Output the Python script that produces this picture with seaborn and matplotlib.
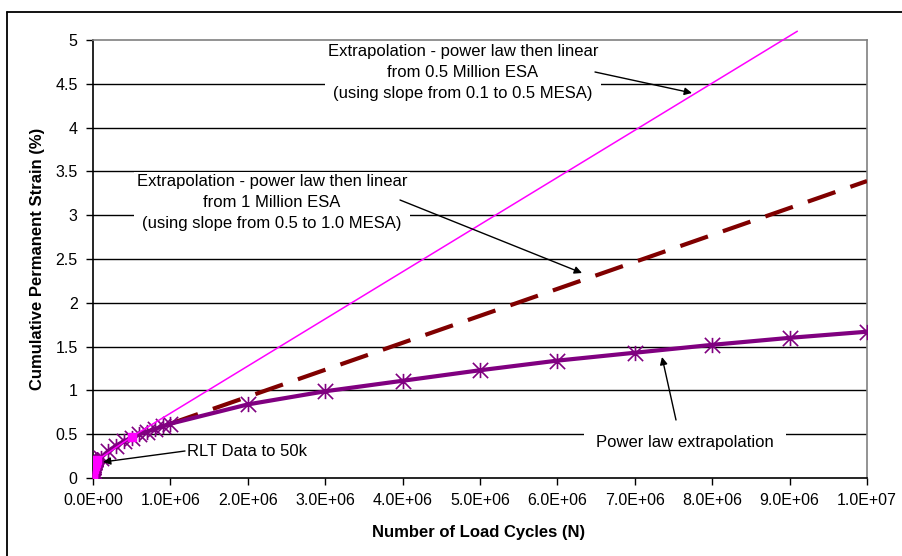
import numpy as np
import pandas as pd
import matplotlib
matplotlib.use("Agg")
import matplotlib.pyplot as plt
from matplotlib.path import Path
from matplotlib.lines import Line2D
from matplotlib.ticker import FuncFormatter
import seaborn as sns

# ---------------- data ----------------
rlt_N = [0, 2000, 5000, 10000, 15000, 20000, 25000, 30000, 35000, 40000, 45000, 50000]
rlt_strain = [0.00, 0.04, 0.07, 0.10, 0.12, 0.14, 0.15, 0.16, 0.17, 0.18, 0.19, 0.20]

pl_N = [1e5, 2e5, 3e5, 4e5, 5e5, 6e5, 7e5, 8e5, 9e5,
        1e6, 2e6, 3e6, 4e6, 5e6, 6e6, 7e6, 8e6, 9e6, 1e7]
pl_strain = [0.23, 0.31, 0.37, 0.42, 0.46, 0.50, 0.53, 0.56, 0.59,
             0.62, 0.84, 0.99, 1.11, 1.23, 1.34, 1.43, 1.52, 1.60, 1.67]

lin05_N = [5e5, 9.1e6]
lin05_strain = [0.47, 5.10]

lin1_N = [1e6, 1e7]
lin1_strain = [0.62, 3.39]

x_ticks = [0, 1e6, 2e6, 3e6, 4e6, 5e6, 6e6, 7e6, 8e6, 9e6, 1e7]
y_ticks = [0, 0.5, 1, 1.5, 2, 2.5, 3, 3.5, 4, 4.5, 5]

PURPLE = "#800080"
MAGENTA = "#FF00FF"
DARKRED = "#800000"

sns.set_theme(style="white")
plt.rcParams["font.family"] = ["Liberation Sans", "DejaVu Sans"]

W, H = 903, 556
fig = plt.figure(figsize=(W / 100, H / 100), dpi=100)
fig.patch.set_facecolor("white")

def fx(px):
    return px / W

def fy(py):
    return 1 - py / H

ax = fig.add_axes([fx(93), fy(478), fx(867) - fx(93), fy(40) - fy(478)])
ax.set_facecolor("white")

# star marker (X + vertical)
star = Path([(0, -1), (0, 1), (-1, -1), (1, 1), (-1, 1), (1, -1)],
            [Path.MOVETO, Path.LINETO, Path.MOVETO, Path.LINETO, Path.MOVETO, Path.LINETO])

# power law (purple) line through RLT data and extrapolation
purple_df = pd.DataFrame({"N": rlt_N + pl_N, "strain": rlt_strain + pl_strain})
sns.lineplot(data=purple_df, x="N", y="strain", ax=ax, color=PURPLE, lw=3.0,
             sort=False, estimator=None, zorder=4)
ax.plot(pl_N, pl_strain, linestyle="none", marker=star, markersize=11,
        markeredgecolor=PURPLE, markeredgewidth=1.2, zorder=5)
ax.plot(rlt_N, rlt_strain, linestyle="none", marker="D", markersize=8,
        color=PURPLE, zorder=5)

# dashed linear from 1 million
lin1_df = pd.DataFrame({"N": lin1_N, "strain": lin1_strain})
sns.lineplot(data=lin1_df, x="N", y="strain", ax=ax, color=DARKRED, lw=3.0,
             sort=False, estimator=None, zorder=3)
ax.lines[-1].set_dashes([7, 3.8])
ax.lines[-1].set_dash_capstyle("butt")

# magenta linear from 0.5 million (with RLT data)
mag_df = pd.DataFrame({"N": rlt_N + lin05_N, "strain": rlt_strain + lin05_strain})
sns.lineplot(data=mag_df, x="N", y="strain", ax=ax, color=MAGENTA, lw=1.1,
             sort=False, estimator=None, zorder=6)
ax.lines[-1].set_clip_on(False)
ax.plot(rlt_N + lin05_N[:1], rlt_strain + lin05_strain[:1], linestyle="none",
        marker="s", markersize=6, color=MAGENTA, zorder=7)

# axes styling
ax.set_xlim(0, 1e7)
ax.set_ylim(0, 5)
ax.set_xticks(x_ticks)
ax.set_yticks(y_ticks)
ax.xaxis.set_major_formatter(FuncFormatter(lambda v, p: f"{v:.1E}"))
ax.yaxis.set_major_formatter(FuncFormatter(lambda v, p: f"{v:g}"))
ax.tick_params(axis="both", which="major", direction="out", length=5, width=1,
               color="black", labelsize=11.5, labelcolor="black")
ax.tick_params(axis="x", pad=6)
ax.tick_params(axis="y", pad=6)
ax.xaxis.set_ticks_position("bottom")
ax.yaxis.set_ticks_position("left")
ax.set_xlabel("")
ax.set_ylabel("")
for gy in y_ticks[1:-1]:
    ax.axhline(gy, color="black", lw=1.0, zorder=1)
ax.spines["left"].set_color("black")
ax.spines["bottom"].set_color("black")
ax.spines["top"].set_color("#808080")
ax.spines["right"].set_color("#808080")
for s in ax.spines.values():
    s.set_linewidth(1.2)
    s.set_visible(True)

def dx(px):
    return (px - 93) / 774 * 1e7

def dy(py):
    return (478 - py) / 87.6

box = dict(facecolor="white", edgecolor="none", pad=2)
txt_kw = dict(fontsize=12, color="black", ha="center", va="center", linespacing=1.5,
              zorder=8)

ax.text(dx(463), dy(73),
        "Extrapolation - power law then linear\nfrom 0.5 Million ESA\n(using slope from 0.1 to 0.5 MESA)",
        bbox=box, **txt_kw)
ax.text(dx(272), dy(203),
        "Extrapolation - power law then linear\nfrom 1 Million ESA\n(using slope from 0.5 to 1.0 MESA)",
        bbox=box, **txt_kw)
ax.text(dx(685), dy(442), "Power law extrapolation",
        bbox=dict(facecolor="white", edgecolor="none", pad=9), **txt_kw)
ax.text(dx(187), dy(452), "RLT Data to 50k", fontsize=12, color="black",
        ha="left", va="center", zorder=8)

arrow_kw = dict(arrowstyle="-|>", color="black", lw=1.0, mutation_scale=11,
                shrinkA=0, shrinkB=0)
for (tx, ty), (hx, hy) in [((595, 72), (692, 93)),
                           ((400, 200), (582, 273)),
                           ((676, 420), (662, 357)),
                           ((185, 451), (103, 462))]:
    ax.annotate("", xy=(dx(hx), dy(hy)), xytext=(dx(tx), dy(ty)),
                xycoords="data", textcoords="data", arrowprops=arrow_kw,
                zorder=9, annotation_clip=False)

# axis titles
fig.text(fx(38), fy(259), "Cumulative Permanent Strain (%)", rotation=90,
         ha="center", va="center", fontsize=12, fontweight="bold", color="black")
fig.text(fx(479), fy(532), "Number of Load Cycles (N)", ha="center", va="center",
         fontsize=12, fontweight="bold", color="black")

# outer chart frame
fig.add_artist(Line2D([fx(7), fx(903)], [fy(12), fy(12)], color="black", lw=1.3,
                      transform=fig.transFigure))
fig.add_artist(Line2D([fx(7), fx(7)], [fy(12), fy(556)], color="black", lw=1.3,
                      transform=fig.transFigure))

fig.savefig("out.png", dpi=100, facecolor="white")
